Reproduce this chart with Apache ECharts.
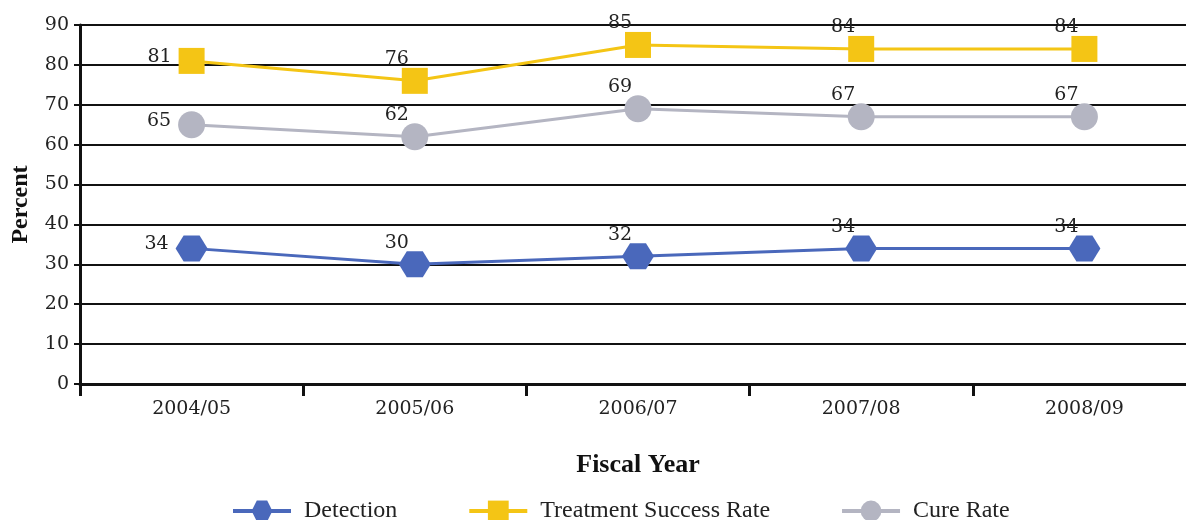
<!DOCTYPE html>
<html><head><meta charset="utf-8">
<script src="https://cdn.jsdelivr.net/npm/echarts@6/dist/echarts.min.js"></script>
<style>html,body{margin:0;padding:0;background:#fff}#c{width:1186px;height:520px}</style>
</head><body><div id="c"></div>
<script>
const categories = ['2004/05', '2005/06', '2006/07', '2007/08', '2008/09'];
const detection = [34, 30, 32, 34, 34];
const treatmentSuccess = [81, 76, 85, 84, 84];
const cureRate = [65, 62, 69, 67, 67];
const yTicks = [0, 10, 20, 30, 40, 50, 60, 70, 80, 90];

const FONT = '"DejaVu Serif", "Liberation Serif", serif';
const hex = 'path://M0,10 L5,0 L15,0 L20,10 L15,20 L5,20 Z';

function mkData(vals) {
  return vals.map((v, i) => ({
    value: v,
    label: i === 0 ? { position: 'left', offset: [-2, -4] } : { position: 'top', offset: [-18, 6] }
  }));
}

function series(name, vals, color, symbol, size) {
  return {
    name, type: 'line', data: mkData(vals), symbol, symbolSize: size,
    lineStyle: { color, width: 3 }, itemStyle: { color },
    label: { show: true, color: '#222', fontFamily: FONT, fontSize: 19 },
    z: 5
  };
}

const chart = echarts.init(document.getElementById('c'));
chart.setOption({
  animation: false,
  backgroundColor: '#fff',
  grid: { left: 80, top: 25, width: 1116, bottom: 136, containLabel: false, outerBoundsMode: 'none' },
  xAxis: {
    type: 'category', data: categories, boundaryGap: true,
    name: 'Fiscal Year', nameLocation: 'middle', nameGap: 68,
    nameTextStyle: { fontFamily: '"Liberation Serif", serif', fontWeight: 'bold', fontSize: 26, color: '#111' },
    axisLine: { lineStyle: { color: '#111', width: 3 } },
    axisTick: { show: true, length: 12, lineStyle: { color: '#111', width: 3 } },
    axisLabel: { fontFamily: FONT, fontSize: 19, color: '#222', margin: 16 }
  },
  yAxis: {
    type: 'value', min: yTicks[0], max: yTicks[yTicks.length - 1], interval: 10,
    name: 'Percent', nameLocation: 'middle', nameGap: 47,
    nameTextStyle: { fontFamily: '"Liberation Serif", serif', fontWeight: 'bold', fontSize: 24, color: '#111' },
    axisLine: { show: true, lineStyle: { color: '#111', width: 3 } },
    axisTick: { show: true, length: 6, lineStyle: { color: '#111', width: 2 } },
    axisLabel: { fontFamily: FONT, fontSize: 19, color: '#222', margin: 11 },
    splitLine: { show: true, lineStyle: { color: '#111', width: 2 } }
  },
  legend: {
    top: 494, left: 226, itemWidth: 58, itemHeight: 26, itemGap: 70,
    lineStyle: { width: 4 },
    textStyle: { fontFamily: '"Liberation Serif", serif', fontSize: 24, color: '#222', padding: [0, 0, 0, 8] },
    data: ['Detection', 'Treatment Success Rate', 'Cure Rate']
  },
  series: [
    series('Detection', detection, '#4a68bb', hex, [32, 26]),
    series('Treatment Success Rate', treatmentSuccess, '#f4c515', 'rect', 26),
    series('Cure Rate', cureRate, '#b4b5c2', 'circle', 27)
  ]
});
</script></body></html>
